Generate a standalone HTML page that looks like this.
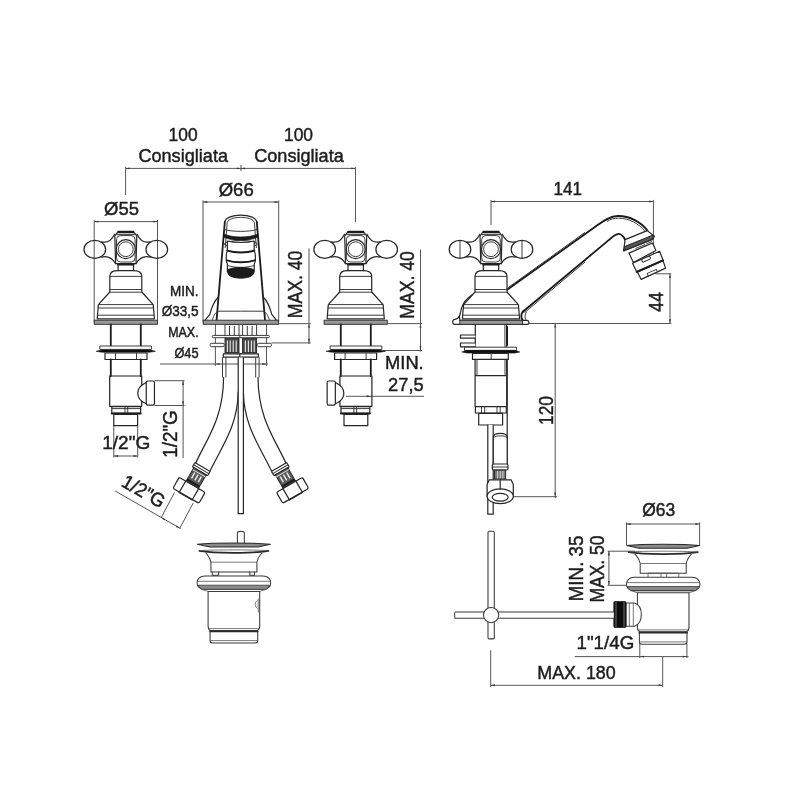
<!DOCTYPE html>
<html><head><meta charset="utf-8"><title>drawing</title>
<style>
html,body{margin:0;padding:0;background:#fff;}
svg{display:block;}
.p{stroke:#262626;stroke-width:1.2;stroke-linejoin:round;stroke-linecap:round}
.pt{stroke:#333;stroke-width:0.95;stroke-linejoin:round}
.pk{stroke:#1a1a1a;stroke-width:2;stroke-linecap:round}
.pk2{stroke:#1a1a1a;stroke-width:1.8;stroke-linecap:round;stroke-linejoin:round}
.q{stroke:#3a3a3a;stroke-width:1.05;stroke-linejoin:round;stroke-linecap:round}
.qt{stroke:#555;stroke-width:0.8;stroke-linejoin:round}
.qk{stroke:#2a2a2a;stroke-width:1.7;stroke-linecap:round}
.d{stroke:#555;stroke-width:1}
.t text{font-family:"Liberation Sans",sans-serif;fill:#1c1c1c;stroke:#1c1c1c;stroke-width:0.45}
</style></head>
<body>
<svg width="800" height="800" viewBox="0 0 800 800">
<rect width="800" height="800" fill="#fff"/>
<g filter="url(#soft)" fill="none">
<defs><filter id="soft" x="0" y="0" width="800" height="800" filterUnits="userSpaceOnUse"><feGaussianBlur stdDeviation="0.55"/></filter></defs>
<path class="d" d="M125.6,195 V166.8 M125.6,168.4 H355.5 M355.5,166.8 V222 M241,165 V171 M94.2,322 V220 M94.2,221.6 H157.5 M157.5,220 V322 M203,322 V200.4 M203,202 H278.7 M278.7,200.4 V322 M278.7,323.65 H310.7 M271.4,342.9 H310.7 M309,248.4 V344 M160,364 H268 M215.4,324 V365.8 M266.5,324 V365.8 M154.5,380.7 H184.5 M154.5,405.5 H184.5 M183.1,380.7 V458 M113.8,425.6 V457.6 M137.7,425.6 V457.6 M113.8,456 H137.7 M174.5,492.5 L161,518 M193.2,503 L179.7,528.5 M115.2,491 L180.5,528.5 M387.5,323.6 H422 M383,350.5 H422 M420.5,249.5 V351.5 M346,396.3 H424 M491,225 V199.9 M491,201.5 H653.4 M653.4,199.9 V272 M655.5,273.8 H671.3 M529,323.5 H671.3 M670,273.8 V323.5 M555.2,323.4 V498 M513.3,496.7 H557 M626.5,545 V522.4 M626.5,524 H699.6 M699.6,522.4 V545 M607.6,551.2 H635 M607.6,585.3 H627 M608.9,551.2 V585.3 M639.8,643.5 V658 M686.9,643.5 V658 M574.7,656.6 H688.5 M490.7,650.3 V687 M490.7,685.3 H662.7 M662.7,687 V657"/>
<path d="M125.60,168.40 L129.80,167.45 L129.80,169.35 Z M241.00,168.40 L236.80,169.35 L236.80,167.45 Z M241.00,168.40 L245.20,167.45 L245.20,169.35 Z M355.50,168.40 L351.30,169.35 L351.30,167.45 Z M94.20,221.60 L98.40,220.65 L98.40,222.55 Z M157.50,221.60 L153.30,222.55 L153.30,220.65 Z M203.00,202.00 L207.20,201.05 L207.20,202.95 Z M278.70,202.00 L274.50,202.95 L274.50,201.05 Z M309.00,323.65 L309.95,327.85 L308.05,327.85 Z M309.00,342.90 L308.05,338.70 L309.95,338.70 Z M215.40,364.00 L219.60,363.05 L219.60,364.95 Z M266.50,364.00 L262.30,364.95 L262.30,363.05 Z M183.10,380.70 L184.05,384.90 L182.15,384.90 Z M183.10,405.50 L182.15,401.30 L184.05,401.30 Z M113.80,456.00 L118.00,455.05 L118.00,456.95 Z M137.70,456.00 L133.50,456.95 L133.50,455.05 Z M161.20,517.60 L165.31,518.88 L164.36,520.52 Z M179.80,528.30 L175.69,527.02 L176.64,525.38 Z M420.50,323.60 L421.45,327.80 L419.55,327.80 Z M420.50,350.50 L419.55,346.30 L421.45,346.30 Z M370.80,396.30 L366.60,397.25 L366.60,395.35 Z M491.00,201.50 L495.20,200.55 L495.20,202.45 Z M653.40,201.50 L649.20,202.45 L649.20,200.55 Z M670.00,273.80 L670.95,278.00 L669.05,278.00 Z M670.00,323.50 L669.05,319.30 L670.95,319.30 Z M555.20,323.40 L556.15,327.60 L554.25,327.60 Z M555.20,496.70 L554.25,492.50 L556.15,492.50 Z M626.50,524.00 L630.70,523.05 L630.70,524.95 Z M699.60,524.00 L695.40,524.95 L695.40,523.05 Z M608.90,551.20 L609.85,555.40 L607.95,555.40 Z M608.90,585.30 L607.95,581.10 L609.85,581.10 Z M639.80,656.60 L644.00,655.65 L644.00,657.55 Z M686.90,656.60 L682.70,657.55 L682.70,655.65 Z M490.70,685.30 L494.90,684.35 L494.90,686.25 Z M662.70,685.30 L658.50,686.25 L658.50,684.35 Z" fill="#3a3a3a" stroke="none"/>
<g transform="translate(125.8,0)">
<g transform="scale(-1,1)">
<ellipse cx="-31" cy="249.4" rx="10.8" ry="9" class="p"/>
<path class="p" d="M-24.5,241.8 C-18,243.5 -14,240 -11.2,234.2"/>
<path class="p" d="M-24.5,257.2 C-18,255.5 -13,259 -10.2,263.6"/>
</g>
<g transform="scale(1,1)">
<ellipse cx="-31" cy="249.4" rx="10.8" ry="9" class="p"/>
<path class="p" d="M-24.5,241.8 C-18,243.5 -14,240 -11.2,234.2"/>
<path class="p" d="M-24.5,257.2 C-18,255.5 -13,259 -10.2,263.6"/>
</g>
<path class="p" d="M-8.5,232.6 L8.5,232.6 L11,236 L10.2,263.7 L-10.2,263.7 L-11,236 Z" fill="#fff"/>
<path class="pk" d="M-7.6,231.7 L7.6,231.7"/>
<path class="pt" d="M-10,234.6 H10"/>
<rect class="pt" x="-9.3" y="235.6" width="18.6" height="26.4" rx="4" fill="none"/>
<circle class="p" cx="0" cy="249.2" r="9.5" fill="#fff"/>
<circle class="pt" cx="0" cy="249.2" r="7.4" fill="none"/>
<path class="p" d="M-7.7,263.7 L-7.7,270.6 M7.7,263.7 L7.7,270.6"/>
<path class="pk" d="M-7.7,264.6 L7.7,264.6"/>
<path class="p" fill="none" d="M-7.7,270.6 C-13,270.6 -16,272 -16,276.4 L-16,292 L-27.4,304.6 L-28.6,318.8 L28.6,318.8 L27.4,304.6 L16,292 L16,276.4 C16,272 13,270.6 7.7,270.6 Z"/>
<path class="pt" d="M-16,276.4 H16 M-16,289.5 H16 M-16,292.2 H16 M-27.4,304.6 H27.4 M-27.8,308 H27.8 M-28.3,315.2 H28.3"/>
<rect x="-31.6" y="320.2" width="63.2" height="4.1" fill="#999" stroke="#2a2a2a" stroke-width="0.9"/>
</g>
<g transform="translate(355.7,0)">
<g transform="scale(-1,1)">
<ellipse cx="-31" cy="249.4" rx="10.8" ry="9" class="p"/>
<path class="p" d="M-24.5,241.8 C-18,243.5 -14,240 -11.2,234.2"/>
<path class="p" d="M-24.5,257.2 C-18,255.5 -13,259 -10.2,263.6"/>
</g>
<g transform="scale(1,1)">
<ellipse cx="-31" cy="249.4" rx="10.8" ry="9" class="p"/>
<path class="p" d="M-24.5,241.8 C-18,243.5 -14,240 -11.2,234.2"/>
<path class="p" d="M-24.5,257.2 C-18,255.5 -13,259 -10.2,263.6"/>
</g>
<path class="p" d="M-8.5,232.6 L8.5,232.6 L11,236 L10.2,263.7 L-10.2,263.7 L-11,236 Z" fill="#fff"/>
<path class="pk" d="M-7.6,231.7 L7.6,231.7"/>
<path class="pt" d="M-10,234.6 H10"/>
<rect class="pt" x="-9.3" y="235.6" width="18.6" height="26.4" rx="4" fill="none"/>
<circle class="p" cx="0" cy="249.2" r="9.5" fill="#fff"/>
<circle class="pt" cx="0" cy="249.2" r="7.4" fill="none"/>
<path class="p" d="M-7.7,263.7 L-7.7,270.6 M7.7,263.7 L7.7,270.6"/>
<path class="pk" d="M-7.7,264.6 L7.7,264.6"/>
<path class="p" fill="none" d="M-7.7,270.6 C-13,270.6 -16,272 -16,276.4 L-16,292 L-27.4,304.6 L-28.6,318.8 L28.6,318.8 L27.4,304.6 L16,292 L16,276.4 C16,272 13,270.6 7.7,270.6 Z"/>
<path class="pt" d="M-16,276.4 H16 M-16,289.5 H16 M-16,292.2 H16 M-27.4,304.6 H27.4 M-27.8,308 H27.8 M-28.3,315.2 H28.3"/>
<rect x="-31.6" y="320.2" width="63.2" height="4.1" fill="#999" stroke="#2a2a2a" stroke-width="0.9"/>
</g>
<g transform="translate(125.8,0)">
<path class="pk2" d="M-15,324.3 V346 M15,324.3 V346" stroke-width="1.6"/>
<rect class="pt" x="-26" y="346" width="51.6" height="3.4" fill="#fff"/>
<path d="M-29.6,351.3 L-24,350 H24 L29.6,351.3 L24,352.2 H-24 Z" fill="#111" stroke="#111" stroke-width="0.6"/>
<rect class="p" x="-20.8" y="353" width="42" height="6.5" fill="#fff"/>
<path class="pt" d="M-10.3,353 V359.5 M10.7,353 V359.5"/>
<path class="pk2" d="M-15,359.5 V376 M15,359.5 V376" stroke-width="1.6"/>
<path class="p" d="M-16.1,376 H15.9 V406.3 H-16.1 Z"/>
<g transform="scale(1,1)">
<path class="p" fill="#fff" d="M20.45,382.6 L19,383.2 C9.6,388 9.6,398.5 19,403 L20.45,403.6"/>
<rect class="p" x="20.45" y="381" width="8.2" height="24.2" rx="1.6" fill="#fff"/>
</g>
<rect class="p" x="-14" y="406.6" width="28.8" height="6.8" fill="#fff"/>
<path class="pt" d="M-0.8,406.6 V413 M1.9,406.6 V413 M-14,408.6 H14.8"/>
<path class="pk" d="M-14,413.6 H14.8" stroke-width="1.7"/>
<rect class="p" x="-12" y="414.4" width="23.8" height="11.2" fill="#fff"/>
</g>
<g transform="translate(355.8,0) scale(-1,1)">
<path class="pk2" d="M-15,324.3 V346 M15,324.3 V346" stroke-width="1.6"/>
<rect class="pt" x="-26" y="346" width="51.6" height="3.4" fill="#fff"/>
<path d="M-29.6,351.3 L-24,350 H24 L29.6,351.3 L24,352.2 H-24 Z" fill="#111" stroke="#111" stroke-width="0.6"/>
<rect class="p" x="-20.8" y="353" width="42" height="6.5" fill="#fff"/>
<path class="pt" d="M-10.3,353 V359.5 M10.7,353 V359.5"/>
<path class="pk2" d="M-15,359.5 V376 M15,359.5 V376" stroke-width="1.6"/>
<path class="p" d="M-16.1,376 H15.9 V406.3 H-16.1 Z"/>
<g transform="scale(1,1)">
<path class="p" fill="#fff" d="M20.45,382.6 L19,383.2 C9.6,388 9.6,398.5 19,403 L20.45,403.6"/>
<rect class="p" x="20.45" y="381" width="8.2" height="24.2" rx="1.6" fill="#fff"/>
</g>
<rect class="p" x="-14" y="406.6" width="28.8" height="6.8" fill="#fff"/>
<path class="pt" d="M-0.8,406.6 V413 M1.9,406.6 V413 M-14,408.6 H14.8"/>
<path class="pk" d="M-14,413.6 H14.8" stroke-width="1.7"/>
<rect class="p" x="-12" y="414.4" width="23.8" height="11.2" fill="#fff"/>
</g>
<g transform="translate(240.8,0)">
<path class="p" d="M-16,222.2 C-15,212.8 15,212.8 16,222.2"/>
<path class="pt" d="M-13.6,222.5 C-12.5,215.6 12.5,215.6 13.6,222.5"/>
<g transform="scale(-1,1)">
<path class="pk2" d="M16,222 L24.2,319.8"/>
<path class="pt" d="M13.6,222.5 L15.6,248"/>
<path class="p" d="M22.4,297 C24.5,299 28.5,305 31,314.4 L35.8,320.3"/>
<path class="pt" d="M0,311.2 H22 C25.5,312 27,315.5 28.5,319.8"/>
</g>
<g transform="scale(1,1)">
<path class="pk2" d="M16,222 L24.2,319.8"/>
<path class="pt" d="M13.6,222.5 L15.6,248"/>
<path class="p" d="M22.4,297 C24.5,299 28.5,305 31,314.4 L35.8,320.3"/>
<path class="pt" d="M0,311.2 H22 C25.5,312 27,315.5 28.5,319.8"/>
</g>
<rect x="-37.6" y="320.2" width="75.2" height="4.1" fill="#999" stroke="#2a2a2a" stroke-width="0.9"/>
<path class="pt" d="M-16.4,229.5 C-8,232 8,232 16.4,229.5"/>
<path d="M-17,234 C-8,238 8,238 17,234 L17.3,237 C8,241.6 -8,241.6 -17.3,237 Z" fill="#1a1a1a" stroke="#1a1a1a" stroke-width="0.7"/>
<ellipse class="pt" cx="0" cy="244" rx="16.6" ry="3.4" stroke="#777"/>
<path class="p" fill="#fff" d="M-13.4,241 C-6,243 6,243 13.4,241 V251 C15,253 15,262 13.4,264 V272 H-13.4 V264 C-15,262 -15,253 -13.4,251 Z"/>
<path class="pk" d="M-13.4,250.6 C-6,253 6,253 13.4,250.6"/>
<path class="pk" d="M-14,260.4 C-6,263 6,263 14,260.4"/>
<path class="pt" d="M-13.4,265.5 C-6,268 6,268 13.4,265.5"/>
<path d="M-12.9,269.5 C-6,266.8 6,266.8 12.9,269.5 V272.5 C12.9,280 -12.9,280 -12.9,272.5 Z" fill="#1a1a1a" stroke="#1a1a1a" stroke-width="1"/>
<g transform="scale(-1,1)">
<rect class="pt" x="1.8" y="324.5" width="14" height="12" fill="#fff"/>
<path class="pt" d="M6.5,326 V335.5 M11.3,326 V335.5"/>
<rect x="1.8" y="338" width="14" height="15" fill="#4a4a4a" stroke="#222" stroke-width="0.9"/>
<path d="M4.6,340.5 V352 M7.6,340.5 V352 M10.6,340.5 V352 M13.4,340.5 V352" stroke="#e8e8e8" stroke-width="1.1"/>
<rect class="pt" x="-1" y="335.4" width="29.6" height="2.3" rx="1.1" fill="#fff"/>
<rect class="pt" x="16.6" y="343.3" width="14" height="3.4" rx="1.2" fill="#fff"/>
<rect class="p" x="-1" y="353.8" width="18.5" height="3.3" fill="#fff"/>
<path class="pt" d="M18.3,357.2 V377.5 M14.9,357.2 V377.5"/>
<path class="p" d="M17.2,377.5 C17.5,420 35,440 45.5,464"/>
<path class="p" d="M2.6,392 C3,425 18,445 31,471.5"/>
<g transform="translate(38.7,467.7) rotate(-30)">
<rect class="p" x="-8.8" y="-0.8" width="17.6" height="5" rx="0.8" fill="#fff"/>
<path class="pt" d="M-8.8,1.7 H8.8"/>
<rect x="-7.2" y="4.2" width="14.4" height="15.6" fill="#5a5a5a" stroke="#222" stroke-width="0.9"/>
<path d="M-3.8,8 V14.5 M0,8 V14.5 M3.8,8 V14.5" stroke="#e6e6e6" stroke-width="1.5"/>
<path d="M-7.2,6.3 H7.2" stroke="#ddd" stroke-width="0.9"/>
<path d="M-7.2,17.6 H7.2" stroke="#1a1a1a" stroke-width="2"/>
<rect class="p" x="-15" y="19.8" width="30" height="12.6" rx="1.8" fill="#fff"/>
<path class="p" d="M-7.5,19.8 V33 M7.5,19.8 V33 M-7.5,33 H7.5" fill="#fff"/>
</g>
</g>
<g transform="scale(1,1)">
<rect class="pt" x="1.8" y="324.5" width="14" height="12" fill="#fff"/>
<path class="pt" d="M6.5,326 V335.5 M11.3,326 V335.5"/>
<rect x="1.8" y="338" width="14" height="15" fill="#4a4a4a" stroke="#222" stroke-width="0.9"/>
<path d="M4.6,340.5 V352 M7.6,340.5 V352 M10.6,340.5 V352 M13.4,340.5 V352" stroke="#e8e8e8" stroke-width="1.1"/>
<rect class="pt" x="-1" y="335.4" width="29.6" height="2.3" rx="1.1" fill="#fff"/>
<rect class="pt" x="16.6" y="343.3" width="14" height="3.4" rx="1.2" fill="#fff"/>
<rect class="p" x="-1" y="353.8" width="18.5" height="3.3" fill="#fff"/>
<path class="pt" d="M18.3,357.2 V377.5 M14.9,357.2 V377.5"/>
<path class="p" d="M17.2,377.5 C17.5,420 35,440 45.5,464"/>
<path class="p" d="M2.6,392 C3,425 18,445 31,471.5"/>
<g transform="translate(38.7,467.7) rotate(-30)">
<rect class="p" x="-8.8" y="-0.8" width="17.6" height="5" rx="0.8" fill="#fff"/>
<path class="pt" d="M-8.8,1.7 H8.8"/>
<rect x="-7.2" y="4.2" width="14.4" height="15.6" fill="#5a5a5a" stroke="#222" stroke-width="0.9"/>
<path d="M-3.8,8 V14.5 M0,8 V14.5 M3.8,8 V14.5" stroke="#e6e6e6" stroke-width="1.5"/>
<path d="M-7.2,6.3 H7.2" stroke="#ddd" stroke-width="0.9"/>
<path d="M-7.2,17.6 H7.2" stroke="#1a1a1a" stroke-width="2"/>
<rect class="p" x="-15" y="19.8" width="30" height="12.6" rx="1.8" fill="#fff"/>
<path class="p" d="M-7.5,19.8 V33 M7.5,19.8 V33 M-7.5,33 H7.5" fill="#fff"/>
</g>
</g>
<path class="p" fill="#fff" d="M-2.6,357.5 V513.7 H2.6 V357.5"/>
</g>
<path class="pk2" stroke-width="2" d="M507.5,289.6 L597,225.4 C603,221.1 610,216 618,216 C630,216 641,222 647.5,230.6"/>
<path class="pt" d="M508.2,287.6 L585,232.4"/>
<path class="pt" stroke="#666" d="M607,221.5 C611,219 614,218.2 618.5,218.2 C629,218.2 639,223.5 645.2,231.6"/>
<path class="pk2" stroke-width="2" d="M522.5,312 L609,239.9 C612,237.3 615,234.2 618.5,233.9 C621.5,233.7 623.5,236.5 625.3,240"/>
<path class="pt" stroke="#777" d="M524.5,312.6 L585,262"/>
<path class="p" stroke-width="1.6" fill="#fff" d="M625.1,239.6 L647.2,230.6 L654.4,236.2 L652.5,239.4 L623.6,250.9 Z"/>
<path fill="#555" stroke="#222" stroke-width="1" d="M624.5,246.6 L652.2,235.4 L654.4,236.2 L652.5,239.4 L623.6,250.9 Z"/>
<path class="pt" d="M635.5,248.5 L645,244.6 L645.6,246.2 M646.2,244 L652,241.5"/>
<path class="p" fill="#fff" d="M628.9,253.1 L652.5,243 L655.9,250.5 L633.4,262.5 Z"/>
<path class="p" fill="#fff" d="M632.6,263.2 L659.6,251.2 L663,260.3 L636.7,271.9 Z"/>
<path class="p" fill="#fff" d="M637.5,272.2 L663,260.6 L665.6,268.1 L641.2,279.4 Z"/>
<path class="pk" d="M636.7,271.9 L663,260.3"/>
<g transform="translate(646.1,259.1) rotate(-23)"><rect class="pt" x="-4.5" y="-1.6" width="9" height="3.2" rx="1.5" fill="#fff"/></g>
<g transform="translate(652.3,272.6) rotate(-23)"><rect class="pt" x="-5" y="-1.3" width="10" height="2.6" fill="#fff"/></g>
<g transform="translate(491,0)">
<g transform="scale(-1,1)">
<ellipse cx="-31" cy="249.4" rx="10.8" ry="9" class="p"/>
<path class="pt" stroke="#666" d="M-31,240.6 V258.2"/>
<path class="p" d="M-24.5,241.8 C-18,243.5 -14,240 -11.2,234.2"/>
<path class="p" d="M-24.5,257.2 C-18,255.5 -13,259 -10.2,263.6"/>
</g>
<g transform="scale(1,1)">
<ellipse cx="-31" cy="249.4" rx="10.8" ry="9" class="p"/>
<path class="pt" stroke="#666" d="M-31,240.6 V258.2"/>
<path class="p" d="M-24.5,241.8 C-18,243.5 -14,240 -11.2,234.2"/>
<path class="p" d="M-24.5,257.2 C-18,255.5 -13,259 -10.2,263.6"/>
</g>
<path class="p" d="M-8.5,232.6 L8.5,232.6 L11,236 L10.2,263.7 L-10.2,263.7 L-11,236 Z" fill="#fff"/>
<path class="pk" d="M-7.6,231.7 L7.6,231.7"/>
<path class="pt" d="M-10,234.6 H10"/>
<rect class="pt" x="-9.3" y="235.6" width="18.6" height="26.4" rx="4" fill="none"/>
<circle class="p" cx="0" cy="249.2" r="9.5" fill="#fff"/>
<circle class="pt" cx="0" cy="249.2" r="7.4" fill="none"/>
<path class="p" d="M-7.7,263.7 L-7.7,270.6 M7.7,263.7 L7.7,270.6"/>
<path class="pk" d="M-7.7,264.6 L7.7,264.6"/>
<path class="p" fill="none" d="M-7.7,270.6 C-13,270.6 -16,272 -16,276.4 L-16,292 L-27.4,304.6 L-28.6,318.8 L28.6,318.8 L27.4,304.6 L16,292 L16,276.4 C16,272 13,270.6 7.7,270.6 Z"/>
<path class="pt" d="M-16,276.4 H16 M-16,289.5 H16 M-16,292.2 H16 M-27.4,304.6 H27.4 M-27.8,308 H27.8 M-28.3,315.2 H28.3"/>
<rect x="-31.6" y="320.2" width="63.2" height="4.1" fill="#999" stroke="#2a2a2a" stroke-width="0.9"/>
</g>
<path class="p" d="M472.5,294.5 C466,299 462.6,304 461.6,308 C460.6,312 460.2,314.5 459.3,316.5"/>
<path class="p" fill="#fff" d="M460,324.3 H454.6 C452,324.3 452,319.7 454.8,319.4 C457,319.1 458.6,318 459.3,316 L460,320.3"/>
<path class="pk2" d="M523.6,310.8 C520.6,313.5 520.6,318 523,320.4"/>
<path class="pt" stroke="#777" d="M526.6,311.8 C524.6,314.5 524.6,318 526.2,320.3"/>
<path class="p" fill="#fff" d="M522.4,324.3 H527 C529.6,324.3 529.6,320.5 527,320.4 H522.4"/>
<rect x="459.8" y="320.3" width="62.8" height="4" fill="#999" stroke="#2a2a2a" stroke-width="0.9"/>
<g transform="translate(491,0)">
<path class="p" d="M-15.7,324.3 V347.3 M15.7,324.3 V347.3"/>
<path class="pt" d="M13.9,324.3 V347.3"/>
<path class="pk" d="M16,327 V345" stroke-width="1.6"/>
<path class="p" fill="#fff" d="M-15.7,335 H-30.5 V338.2 H-15.7 M-15.7,343 H-30.5 V346.8 H-15.7"/>
<rect class="pt" x="-26.5" y="347.2" width="52" height="3.3" fill="#fff"/>
<path d="M-29.2,352 L-24,350.3 H24 L28.8,352 L24,353 H-24 Z" fill="#111" stroke="#111" stroke-width="0.6"/>
<rect class="p" x="-18.5" y="353.4" width="35.8" height="6" fill="#fff"/>
<path class="pt" d="M0.2,352.8 V359.3"/>
<path class="p" d="M-15.9,359.3 V406.5 H15.7 V359.3 M-15.9,375.6 H15.7"/>
<path class="pt" d="M-14,359.3 V375.6 M14,359.3 V375.6"/>
<rect class="p" x="-15.6" y="406.6" width="30.9" height="6.4" fill="#fff"/>
<path class="pt" d="M-9.5,406.6 V413 M-6.3,406.6 V413 M6,406.6 V413 M9.2,406.6 V413"/>
<rect class="p" x="-12.3" y="413.4" width="23.9" height="11.6" fill="#fff"/>
<path class="p" d="M16.2,359.3 V463.6"/>
</g>
<path class="p" fill="#fff" d="M487.8,425 V514.2 H493.2 V425"/>
<path class="p" fill="#fff" d="M493.3,464 V437.3 C493.3,432 507.2,432 507.2,437.3 V464"/>
<path class="pt" d="M493.3,437.6 C496,435.2 504.5,435.2 507.2,437.6"/>
<rect class="p" x="492.3" y="464" width="15.7" height="6" rx="1.5" fill="#fff"/>
<path class="pt" d="M492.3,467 H508"/>
<rect x="494.5" y="470" width="11.2" height="9" fill="#777" stroke="#222" stroke-width="0.9"/>
<path d="M497.6,471 V478.5 M500.2,471 V478.5 M502.8,471 V478.5" stroke="#e0e0e0" stroke-width="0.9"/>
<path class="p" fill="#fff" d="M487.1,484.5 L489.3,479.8 H511.1 L513.3,484.5 V496.5 H487.1 Z"/>
<ellipse class="p" cx="500.2" cy="496.3" rx="13.1" ry="7.4" fill="#fff"/>
<path class="p" d="M500.2,479.8 V489"/>
<ellipse class="p" cx="500.2" cy="497.2" rx="8" ry="3.9" fill="#fff"/>
<path class="q" fill="#fff" d="M237.4,543.5 V532.4 C237.4,531 244.3,531 244.3,532.4 V543.5"/>
<g transform="translate(233.9,0)">
<path fill="#8a8a8a" stroke="#2a2a2a" stroke-width="1.1" stroke-linejoin="round" d="M-36.5,544.2 C-20,542.6 20,542.6 36.5,544.2 L24,547 H-24 Z"/>
<path class="qk" d="M-34.6,550.9 C-20,553.4 20,553.4 34.6,550.9"/>
<path class="qt" d="M-34.6,550.7 C-20,549.6 20,549.6 34.6,550.7"/>
<path class="q" d="M-28,553 C-25.5,556 -23.6,557.5 -23,562.2 V572 H23 V562.2 C23.6,557.5 25.5,556 28,553"/>
<path class="qt" d="M-23,562.2 H23"/>
<path class="q" fill="#fff" d="M-29,575.9 H29 C39.2,575.9 39.2,589.3 30,589.3 H-30 C-39.2,589.3 -39.2,575.9 -29,575.9 Z"/>
<path class="qt" d="M-36.3,581.3 H36.3"/>
<path fill="#8a8a8a" stroke="#3a3a3a" stroke-width="0.8" d="M-35.6,585.2 H35.6 L32.5,589.3 H-32.5 Z"/>
<path class="qt" d="M-32.5,589.3 L-25.8,591.4 M32.5,589.3 L25.8,591.4"/>
<path class="q" d="M-25.8,591.4 V626 C-25.8,628.5 -24.6,630 -23.4,630.5 H23.4 C24.6,630 25.8,628.5 25.8,626 V591.4 Z"/>
<path class="qt" d="M-25.2,628.6 H25.2"/>
<path class="q" d="M-23.8,630.8 V641 C-23.8,642.5 -22.5,643 -21,643 H21 C22.5,643 23.8,642.5 23.8,641 V630.8"/>
<path class="qt" d="M-23.8,640.6 H23.8"/>
<path class="qk" stroke-width="1.3" d="M-23.8,631.4 H23.8"/>
<path class="q" d="M-21.6,572 V575.2 H-15.3 V572 M15.9,572 V575.2 H20.6 V572"/>
<path class="qt" d="M23.6,600.5 C20.6,602 20.6,606.5 23.6,608.5 M24.3,598.5 V612.5"/>
</g>
<g transform="translate(663.2,1.3)">
<path fill="#8a8a8a" stroke="#2a2a2a" stroke-width="1.1" stroke-linejoin="round" d="M-36.5,544.2 C-20,542.6 20,542.6 36.5,544.2 L24,547 H-24 Z"/>
<path class="qk" d="M-34.6,550.9 C-20,553.4 20,553.4 34.6,550.9"/>
<path class="qt" d="M-34.6,550.7 C-20,549.6 20,549.6 34.6,550.7"/>
<path class="q" d="M-28,553 C-25.5,556 -23.6,557.5 -23,562.2 V572 H23 V562.2 C23.6,557.5 25.5,556 28,553"/>
<path class="qt" d="M-23,562.2 H23"/>
<path class="q" fill="#fff" d="M-29,575.9 H29 C39.2,575.9 39.2,589.3 30,589.3 H-30 C-39.2,589.3 -39.2,575.9 -29,575.9 Z"/>
<path class="qt" d="M-36.3,581.3 H36.3"/>
<path fill="#8a8a8a" stroke="#3a3a3a" stroke-width="0.8" d="M-35.6,585.2 H35.6 L32.5,589.3 H-32.5 Z"/>
<path class="qt" d="M-32.5,589.3 L-25.8,591.4 M32.5,589.3 L25.8,591.4"/>
<path class="q" d="M-25.8,591.4 V626 C-25.8,628.5 -24.6,630 -23.4,630.5 H23.4 C24.6,630 25.8,628.5 25.8,626 V591.4 Z"/>
<path class="qt" d="M-25.2,628.6 H25.2"/>
<path class="q" d="M-23.8,630.8 V641 C-23.8,642.5 -22.5,643 -21,643 H21 C22.5,643 23.8,642.5 23.8,641 V630.8"/>
<path class="qt" d="M-23.8,640.6 H23.8"/>
<path class="qk" stroke-width="1.3" d="M-23.8,631.4 H23.8"/>
<path class="qt" d="M-15.2,575.7 V571.8 H15.6 V575.7 M-2.2,571.8 V575.7 M3.4,571.8 V575.7"/>
</g>
<path class="q" fill="#fff" d="M626,603 H634.5 C643.6,606 643.6,623 634.5,626.2 H626 Z"/>
<path class="qt" d="M629.3,603 V626.2 M633.3,603 V626.2"/>
<rect x="613.8" y="601.5" width="12.2" height="26" rx="1" fill="#111" stroke="#222" stroke-width="0.8"/>
<path d="M616,602 V627 M624,602 V627" stroke="#999" stroke-width="0.7"/>
<rect class="q" fill="#fff" x="488" y="531.3" width="6.3" height="107.6" rx="1.2"/>
<path class="q" fill="#fff" d="M613.8,612 H455.5 C454.3,612 454.3,618.3 455.5,618.3 H613.8"/>
<circle class="q" cx="491.1" cy="615.1" r="7.6" fill="#fff"/>
<g class="t"><text x="183.1" y="141.4" text-anchor="middle" font-size="19.2" textLength="29" lengthAdjust="spacingAndGlyphs">100</text>
<text x="183.2" y="162.4" text-anchor="middle" font-size="19.2" textLength="89.6" lengthAdjust="spacingAndGlyphs">Consigliata</text>
<text x="298.5" y="141.4" text-anchor="middle" font-size="19.2" textLength="29" lengthAdjust="spacingAndGlyphs">100</text>
<text x="299" y="162.4" text-anchor="middle" font-size="19.2" textLength="89.6" lengthAdjust="spacingAndGlyphs">Consigliata</text>
<text x="121.5" y="215.4" text-anchor="middle" font-size="19.2" textLength="35" lengthAdjust="spacingAndGlyphs">Ø55</text>
<text x="236.2" y="195.5" text-anchor="middle" font-size="19.2" textLength="35" lengthAdjust="spacingAndGlyphs">Ø66</text>
<text x="198.6" y="295.7" text-anchor="end" font-size="14.8" textLength="28.5" lengthAdjust="spacingAndGlyphs">MIN.</text>
<text x="198.6" y="316.2" text-anchor="end" font-size="14.8" textLength="36.8" lengthAdjust="spacingAndGlyphs">Ø33,5</text>
<text x="198.6" y="336.6" text-anchor="end" font-size="14.8" textLength="30.4" lengthAdjust="spacingAndGlyphs">MAX.</text>
<text x="198.6" y="357.6" text-anchor="end" font-size="14.8" textLength="24.2" lengthAdjust="spacingAndGlyphs">Ø45</text>
<text transform="translate(302.2,284.5) rotate(-90)" text-anchor="middle" font-size="20.6" textLength="67.5" lengthAdjust="spacingAndGlyphs">MAX. 40</text>
<text transform="translate(414.2,285) rotate(-90)" text-anchor="middle" font-size="20.6" textLength="67.5" lengthAdjust="spacingAndGlyphs">MAX. 40</text>
<text x="423.7" y="369.2" text-anchor="end" font-size="19.2" textLength="38.6" lengthAdjust="spacingAndGlyphs">MIN.</text>
<text x="423.7" y="390.5" text-anchor="end" font-size="19.2" textLength="35.6" lengthAdjust="spacingAndGlyphs">27,5</text>
<text x="126.2" y="448.9" text-anchor="middle" font-size="19.2" textLength="48" lengthAdjust="spacingAndGlyphs">1/2&quot;G</text>
<text transform="translate(177,434) rotate(-90)" text-anchor="middle" font-size="20.6" textLength="47.5" lengthAdjust="spacingAndGlyphs">1/2&quot;G</text>
<text transform="translate(120.2,485.4) rotate(30)" text-anchor="start" font-size="19.2" textLength="46.5" lengthAdjust="spacingAndGlyphs">1/2&quot;G</text>
<text x="567.7" y="195.3" text-anchor="middle" font-size="19.2" textLength="28.5" lengthAdjust="spacingAndGlyphs">141</text>
<text transform="translate(663,302) rotate(-90)" text-anchor="middle" font-size="20.6" textLength="20" lengthAdjust="spacingAndGlyphs">44</text>
<text transform="translate(553,410.5) rotate(-90)" text-anchor="middle" font-size="20.6" textLength="29" lengthAdjust="spacingAndGlyphs">120</text>
<text x="658.7" y="516.25" text-anchor="middle" font-size="19.2" textLength="33" lengthAdjust="spacingAndGlyphs">Ø63</text>
<text transform="translate(583.2,568.4) rotate(-90)" text-anchor="middle" font-size="20.6" textLength="65.8" lengthAdjust="spacingAndGlyphs">MIN. 35</text>
<text transform="translate(604.2,569) rotate(-90)" text-anchor="middle" font-size="20.6" textLength="67.2" lengthAdjust="spacingAndGlyphs">MAX. 50</text>
<text x="605.4" y="649.25" text-anchor="middle" font-size="19.2" textLength="57.7" lengthAdjust="spacingAndGlyphs">1&quot;1/4G</text>
<text x="576.5" y="679" text-anchor="middle" font-size="19.2" textLength="78.4" lengthAdjust="spacingAndGlyphs">MAX. 180</text></g>
</g>
</svg>
</body></html>
